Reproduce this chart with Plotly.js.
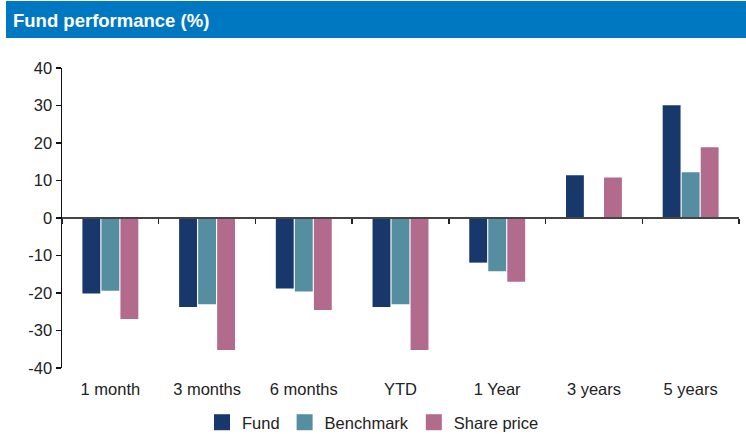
<!DOCTYPE html>
<html>
<head>
<meta charset="utf-8">
<script src="https://cdn.plot.ly/plotly-3.0.1.min.js"></script>
<style>html,body{margin:0;padding:0;background:#fff;}#chart{width:746px;height:434px;}</style>
</head>
<body>
<div id="chart"></div>
<script>
var categories = ["1 month", "3 months", "6 months", "YTD", "1 Year", "3 years", "5 years"];
var fund = [-20.1, -23.7, -18.8, -23.7, -11.9, 11.4, 30.1];
var benchmark = [-19.4, -23.0, -19.6, -23.0, -14.2, 0.2, 12.2];
var sharePrice = [-26.9, -35.2, -24.5, -35.2, -17.0, 10.8, 18.9];
var seriesNames = ["Fund", "Benchmark", "Share price"];
var yTicks = [-40, -30, -20, -10, 0, 10, 20, 30, 40];
var yTickText = ["-40", "-30", "-20", "-10", "0", "10", "20", "30", "40"];
var titleText = "Fund performance (%)";

var colors = ["#18376b", "#568ea1", "#b26a8d"];
var FONT = "'Liberation Sans', Arial, sans-serif";
var allSeries = [fund, benchmark, sharePrice];

var traces = [];
allSeries.forEach(function (vals, i) {
  traces.push({
    type: "bar", x: categories, y: vals, name: seriesNames[i],
    marker: {color: colors[i], line: {width: 0}},
    showlegend: false, hoverinfo: "x+y+name"
  });
});
// legend-only markers (bigger swatches than bar default)
seriesNames.forEach(function (n, i) {
  traces.push({
    type: "scatter", mode: "markers", x: [categories[0]], y: [null], name: n,
    marker: {symbol: "square", size: 16, color: colors[i]},
    showlegend: true, hoverinfo: "skip"
  });
});
// helper trace for the axis line at zero
traces.push({type: "scatter", mode: "markers", x: categories, y: categories.map(function(){return null;}),
  xaxis: "x2", showlegend: false, hoverinfo: "skip", marker: {opacity: 0}});

var layout = {
  width: 746, height: 434,
  margin: {l: 62, r: 7, t: 68, b: 66, autoexpand: false},
  paper_bgcolor: "#fff", plot_bgcolor: "#fff",
  font: {family: FONT, size: 16.5, color: "#222"},
  barmode: "group", bargap: 0.41, bargroupgap: 0.06,
  xaxis: {
    type: "category", categoryorder: "array", categoryarray: categories,
    showline: false, showgrid: false, zeroline: false, ticks: "", ticklabelstandoff: 9,
    tickfont: {family: FONT, size: 16.5, color: "#222"}, fixedrange: true, automargin: false
  },
  xaxis2: {
    type: "category", overlaying: "x", matches: "x", anchor: "free", position: 0.5, side: "bottom",
    showline: true, linecolor: "#444", linewidth: 2, showgrid: false, zeroline: false,
    ticks: "outside", tickson: "boundaries", ticklen: 5, tickwidth: 1.5, tickcolor: "#222",
    showticklabels: false, fixedrange: true
  },
  yaxis: {
    range: [-40, 40], tickvals: yTicks, ticktext: yTickText, showgrid: false, zeroline: false,
    showline: true, linecolor: "#111", linewidth: 1.5,
    ticks: "outside", ticklen: 5, tickwidth: 1.2, tickcolor: "#111",
    tickfont: {family: FONT, size: 16.5, color: "#222"}, fixedrange: true, automargin: false
  },
  legend: {
    orientation: "h", x: (373 - 62) / 677, xanchor: "center",
    yref: "container", y: 1 - 405 / 434, yanchor: "top",
    font: {family: FONT, size: 16.5, color: "#222"}, itemwidth: 30, bgcolor: "rgba(0,0,0,0)"
  },
  shapes: [{
    type: "rect", xref: "paper", yref: "paper", layer: "below",
    x0: (6 - 62) / 677, x1: (746 - 62) / 677, y0: 1 + (68 - 38) / 300, y1: 1 + (68 - 1) / 300,
    fillcolor: "#0078c1", line: {width: 0}
  }],
  annotations: [{
    text: "<b>" + titleText + "</b>", xref: "paper", yref: "paper",
    x: (11 - 62) / 677, xanchor: "left", y: 1 + (68 - 20) / 300, yanchor: "middle",
    showarrow: false, font: {family: FONT, size: 18.5, color: "#fff"}
  }]
};

Plotly.newPlot("chart", traces, layout, {displayModeBar: false, staticPlot: true});
</script>
</body>
</html>
